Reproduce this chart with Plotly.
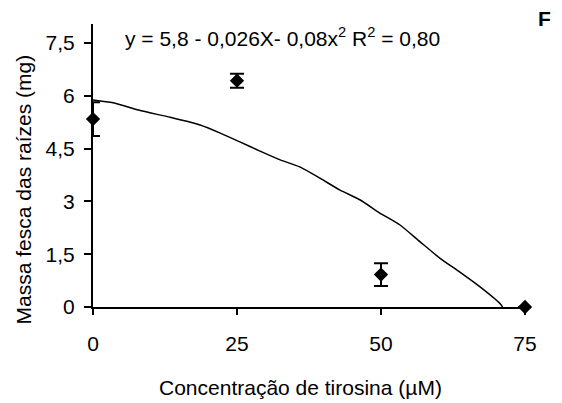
import plotly.graph_objects as go

# Observed means and error (± SE)
conc = [0, 25, 50, 75]
mass = [5.34, 6.43, 0.92, 0.0]
err = [0.48, 0.20, 0.32, 0.0]

# Trend curve
curve_x = [0, 3.5, 8.2, 13.4, 18.6, 22.1, 25.5, 29.0, 32.5, 35.9, 39.4,
           42.9, 46.4, 49.8, 53.3, 56.8, 60.2, 63.7, 67.2, 70.7, 71.1]
curve_y = [5.88, 5.80, 5.58, 5.39, 5.17, 4.94, 4.69, 4.43, 4.18, 3.98, 3.66,
           3.32, 3.04, 2.67, 2.33, 1.85, 1.39, 0.99, 0.57, 0.09, 0.0]

x_ticks = [0, 25, 50, 75]
y_ticks = [0, 1.5, 3, 4.5, 6, 7.5]
y_tick_labels = ["0", "1,5", "3", "4,5", "6", "7,5"]

FONT = "Liberation Sans, Arial, sans-serif"
FS = 21

fig = go.Figure()
fig.add_trace(go.Scatter(
    x=curve_x, y=curve_y, mode="lines",
    line=dict(color="black", width=1.5, shape="spline", smoothing=0.6),
    hoverinfo="skip", showlegend=False))
fig.add_trace(go.Scatter(
    x=conc, y=mass, mode="markers",
    marker=dict(symbol="diamond", size=11, color="black"),
    error_y=dict(type="data", array=err, visible=True, color="black",
                 thickness=2, width=7),
    cliponaxis=False, showlegend=False))

fig.update_layout(
    width=562, height=403,
    margin=dict(l=93, r=37, t=24, b=96),
    paper_bgcolor="white", plot_bgcolor="white",
    font=dict(family=FONT, size=FS, color="black"),
    showlegend=False,
    xaxis=dict(range=[0, 75], tickvals=x_ticks, ticktext=[str(v) for v in x_ticks],
               showgrid=False, zeroline=False, showline=True, linecolor="black",
               linewidth=2, ticks="outside", ticklen=6, tickwidth=2, tickcolor="black",
               ticklabelstandoff=11),
    yaxis=dict(range=[0, 8.04], tickvals=y_ticks, ticktext=y_tick_labels,
               showgrid=False, zeroline=False, showline=True, linecolor="black",
               linewidth=2, ticks="outside", ticklen=7, tickwidth=2, tickcolor="black",
               ticklabelstandoff=5),
    annotations=[
        dict(text="Massa fesca das raízes (mg)", xref="paper", yref="paper",
             x=-0.16, y=0.415, xanchor="center", yanchor="middle", textangle=-90,
             showarrow=False, font=dict(size=FS)),
        dict(text="Concentração de tirosina (µM)", xref="paper", yref="paper",
             x=0.481, y=-0.286, xanchor="center", yanchor="middle",
             showarrow=False, font=dict(size=FS)),
        dict(text="y = 5,8 - 0,026X- 0,08x<sup>2</sup> R<sup>2</sup> = 0,80",
             xref="paper", yref="paper", x=0.07, y=0.955, xanchor="left",
             yanchor="middle", showarrow=False, font=dict(size=FS)),
        dict(text="<b>F</b>", xref="paper", yref="paper", x=1.045, y=1.02,
             xanchor="center", yanchor="middle", showarrow=False,
             font=dict(size=FS)),
    ],
)

fig.write_html("out.html")
